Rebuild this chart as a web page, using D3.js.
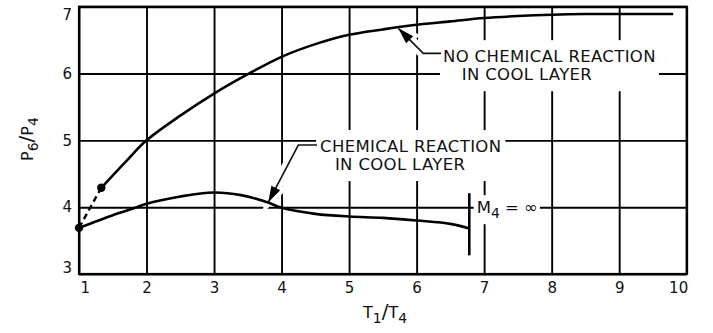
<!DOCTYPE html>
<html><head><meta charset="utf-8">
<script src="https://cdn.jsdelivr.net/npm/d3@7"></script>
<style>body{margin:0;background:#fff}svg{display:block}</style>
</head><body><svg id="c" width="713" height="333"></svg>
<script>
// ---- data ----
const xTicks = [1,2,3,4,5,6,7,8,9,10];
const yTicks = [3,4,5,6,7];
const noReactionX = [1.33,1.7,2,2.5,3,3.5,4,4.5,5,5.5,6,6.5,7,7.5,8,8.5,9,9.5,9.8];
const noReactionY = [4.29,4.69,5.0,5.37,5.70,5.99,6.25,6.44,6.58,6.66,6.73,6.78,6.83,6.86,6.88,6.89,6.89,6.89,6.89];
const reactionX = [1,1.5,1.8,2,2.5,3,3.4,3.8,4,4.5,5,5.5,6,6.5,6.78];
const reactionY = [3.69,3.88,3.98,4.05,4.16,4.22,4.18,4.07,3.99,3.90,3.86,3.84,3.80,3.75,3.68];
const dashedX = [1,1.33];
const dashedY = [3.69,4.29];
const limitX = 6.78;
const limitY = [3.28,4.21];
const labelUpper = ["NO CHEMICAL REACTION","IN COOL LAYER"];
const labelLower = ["CHEMICAL REACTION","IN COOL LAYER"];

// ---- layout (annotation anchors in data units) ----
const layout = {
  upperText: [[6.39,6.26],[6.668,5.99]],
  upperLeader: [[6.361,6.302],[6.099,6.302],[5.729,6.676]],
  lowerText: [[4.57,4.915],[4.79,4.646]],
  lowerLeader: [[4.525,4.93],[4.248,4.93],[3.804,4.075]],
  mText: [6.889,4.0]
};

const FONT = "'DejaVu Sans', sans-serif";
const svg = d3.select("#c");
const x = d3.scaleLinear().domain([1,10]).range([79,686.7]);
const y = d3.scaleLinear().domain([3,7]).range([274,6.7]);
const W = x(10)-x(1), H = y(3)-y(7);

// grid via axes
const gx = svg.append("g").attr("transform",`translate(0,${y(3)})`)
  .call(d3.axisBottom(x).tickValues(xTicks).tickSize(-H).tickPadding(8).tickFormat(d3.format("d")));
const gy = svg.append("g").attr("transform",`translate(${x(1)},0)`)
  .call(d3.axisLeft(y).tickValues(yTicks).tickSize(-W).tickPadding(7).tickFormat(d3.format("d")));
[gx,gy].forEach(g=>{
  g.select(".domain").remove();
  g.selectAll(".tick line").attr("stroke","#000").attr("stroke-width",1.9);
  g.selectAll(".tick text").attr("font-family",FONT).attr("font-size",15).attr("fill","#111");
});
gx.selectAll(".tick text").each(function(d){
  const t=d3.select(this);
  if(d===xTicks[0]) t.attr("text-anchor","start").attr("x",1);
  if(d===xTicks[xTicks.length-1]) t.attr("text-anchor","end").attr("x",1);
});
gy.selectAll(".tick text").each(function(d){
  const t=d3.select(this);
  if(d===yTicks[yTicks.length-1]) t.attr("dy","0.85em");
  if(d===yTicks[0]) t.attr("dy","-0.1em");
});

const fs = 16.5;
function addLabel(lines, pos){
  const g = svg.append("g");
  const bg = g.append("rect").attr("fill","#fff");
  lines.forEach((s,i)=>{
    g.append("text").attr("x",x(pos[i][0])).attr("y",y(pos[i][1])+0.365*fs)
      .attr("font-family",FONT).attr("font-size",fs).attr("letter-spacing",0.35).attr("fill","#111").text(s);
  });
  return {g,bg};
}
function sizeBox(o,px,py){
  const b=o.g.selectAll("text").nodes().map(n=>n.getBBox());
  const x0=d3.min(b,d=>d.x), x1=d3.max(b,d=>d.x+d.width);
  const y0=d3.min(b,d=>d.y), y1=d3.max(b,d=>d.y+d.height);
  o.bg.attr("x",x0-px).attr("y",y0-py).attr("width",x1-x0+2*px).attr("height",y1-y0+2*py);
}

// leaders
const leaderLine = d3.line().x(d=>x(d[0])).y(d=>y(d[1]));
function arrowHead(pts){
  const a=pts[pts.length-2], b=pts[pts.length-1];
  const ax=x(a[0]),ay=y(a[1]),bx=x(b[0]),by=y(b[1]);
  const L=Math.hypot(bx-ax,by-ay), ux=(bx-ax)/L, uy=(by-ay)/L;
  const len=16, hw=5;
  const cx=bx-ux*len, cy=by-uy*len;
  return `M${bx},${by}L${cx-uy*hw},${cy+ux*hw}L${cx+uy*hw},${cy-ux*hw}Z`;
}
const halo = svg.append("g");
[layout.upperLeader, layout.lowerLeader].forEach(p=>{
  halo.append("path").attr("d",leaderLine(p.slice(1))).attr("fill","none").attr("stroke","#fff").attr("stroke-width",11);
  halo.append("path").attr("d",arrowHead(p)).attr("fill","#fff").attr("stroke","#fff").attr("stroke-width",8);
});

const up = addLabel(labelUpper, layout.upperText);
const lo = addLabel(labelLower, layout.lowerText);

// M4 label
const mg = svg.append("g");
const mbg = mg.append("rect").attr("fill","#fff");
const mt = mg.append("text").attr("x",x(layout.mText[0])).attr("y",y(layout.mText[1])+0.365*fs)
  .attr("font-family",FONT).attr("font-size",fs).attr("fill","#111");
mt.append("tspan").text("M");
mt.append("tspan").attr("dy",5).attr("font-size",14).text("4");
mt.append("tspan").attr("dy",-5).text(" = \u221E");

sizeBox(up,3,7); sizeBox(lo,4,7);
{ const b=mt.node().getBBox(); mbg.attr("x",b.x-3).attr("y",b.y-3).attr("width",b.width+5).attr("height",b.height+6); }

// frame
svg.append("rect").attr("x",x(1)).attr("y",y(7)).attr("width",W).attr("height",H)
  .attr("fill","none").attr("stroke","#000").attr("stroke-width",2.2);

// curves
const line = d3.line().x(d=>x(d[0])).y(d=>y(d[1])).curve(d3.curveCatmullRom.alpha(0.5));
svg.append("path").datum(d3.zip(noReactionX,noReactionY)).attr("d",line)
  .attr("fill","none").attr("stroke","#000").attr("stroke-width",2.6);
svg.append("path").datum(d3.zip(reactionX,reactionY)).attr("d",line)
  .attr("fill","none").attr("stroke","#000").attr("stroke-width",2.6);
svg.append("path").datum(d3.zip(dashedX,dashedY)).attr("d",d3.line().x(d=>x(d[0])).y(d=>y(d[1])))
  .attr("fill","none").attr("stroke","#000").attr("stroke-width",2.4).attr("stroke-dasharray","6,4");
svg.selectAll("circle.pt").data(d3.zip(dashedX,dashedY)).join("circle").attr("class","pt")
  .attr("cx",d=>x(d[0])).attr("cy",d=>y(d[1])).attr("r",4.2).attr("fill","#000");
svg.append("line").attr("x1",x(limitX)).attr("x2",x(limitX)).attr("y1",y(limitY[0])).attr("y2",y(limitY[1]))
  .attr("stroke","#000").attr("stroke-width",2.6);

// leaders
[layout.upperLeader, layout.lowerLeader].forEach(p=>{
  svg.append("path").attr("d",leaderLine(p)).attr("fill","none").attr("stroke","#111").attr("stroke-width",1.6);
  svg.append("path").attr("d",arrowHead(p)).attr("fill","#000");
});

// axis titles
const xt = svg.append("text").attr("x",385).attr("y",318).attr("text-anchor","middle")
  .attr("font-family",FONT).attr("font-size",16).attr("fill","#111");
xt.append("tspan").text("T");
xt.append("tspan").attr("dy",5).attr("font-size",14).text("1");
xt.append("tspan").attr("dy",-5).attr("font-size",20).text("/");
xt.append("tspan").text("T");
xt.append("tspan").attr("dy",5).attr("font-size",14).text("4");

const yt = svg.append("text").attr("transform","translate(33,139) rotate(-90)").attr("text-anchor","middle")
  .attr("font-family",FONT).attr("font-size",16).attr("fill","#111");
yt.append("tspan").text("P");
yt.append("tspan").attr("dy",5).attr("font-size",14).text("6");
yt.append("tspan").attr("dy",-5).attr("font-size",20).text("/");
yt.append("tspan").text("P");
yt.append("tspan").attr("dy",5).attr("font-size",14).text("4");
</script></body></html>
